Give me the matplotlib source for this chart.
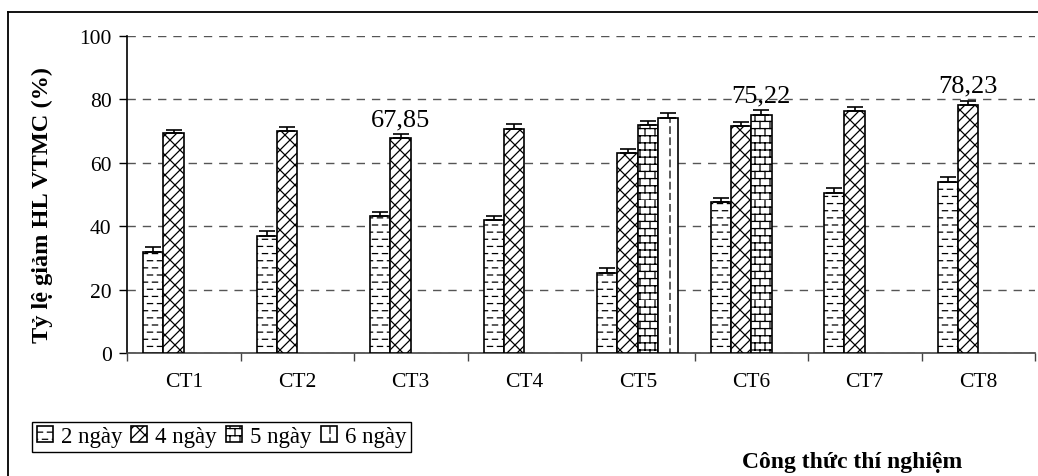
import warnings
import numpy as np
import matplotlib
matplotlib.use("Agg")
import matplotlib.pyplot as plt
import matplotlib.hatch as mhatch
from matplotlib.path import Path
from matplotlib.lines import Line2D

warnings.filterwarnings("ignore")

categories = ["CT1", "CT2", "CT3", "CT4", "CT5", "CT6", "CT7", "CT8"]
series = ["2 ngày", "4 ngày", "5 ngày", "6 ngày"]
nan = np.nan
v2 = [32.0, 37.0, 43.2, 42.0, 25.2, 47.5, 50.5, 54.0]
v4 = [69.3, 69.9, 67.85, 70.8, 63.2, 71.5, 76.3, 78.23]
v5 = [nan, nan, nan, nan, 71.8, 75.22, nan, nan]
v6 = [nan, nan, nan, nan, 74.2, nan, nan, nan]
e2 = [1.3, 1.4, 1.3, 1.3, 1.5, 1.4, 1.4, 1.5]
e4 = [0.9, 1.3, 1.2, 1.4, 1.3, 1.3, 1.3, 1.3]
e5 = [nan, nan, nan, nan, 1.3, 1.4, nan, nan]
e6 = [nan, nan, nan, nan, 1.5, nan, nan, nan]
labelled = {(2, 1): "67,85", (5, 2): "75,22", (7, 1): "78,23"}


def put_segments(segs, vertices, codes):
    for k, (x0, y0, x1, y1) in enumerate(segs):
        vertices[2 * k] = (x0, y0)
        vertices[2 * k + 1] = (x1, y1)
        codes[2 * k] = Path.MOVETO
        codes[2 * k + 1] = Path.LINETO


# custom Excel-like fill patterns (unit square = 1 inch)
class DashHatch(mhatch.HatchPatternBase):
    # staggered short horizontal dashes
    nx, ny, half = 10, 14, 0.026

    def __init__(self, hatch, density):
        on = "a" in hatch
        self.num_vertices = (self.nx * self.ny + self.ny // 2) * 2 if on else 0

    def set_vertices_and_codes(self, vertices, codes):
        dx, dy, L = 1.0 / self.nx, 1.0 / self.ny, self.half
        segs = []
        for j in range(self.ny):
            y = (j + 0.5) * dy
            if j % 2 == 0:
                for i in range(self.nx):
                    c = (i + 0.5) * dx
                    segs.append((c - L, y, c + L, y))
            else:
                segs.append((0.0, y, L, y))
                for i in range(1, self.nx):
                    c = i * dx
                    segs.append((c - L, y, c + L, y))
                segs.append((1.0 - L, y, 1.0, y))
        put_segments(segs, vertices, codes)


class BrickHatch(mhatch.HatchPatternBase):
    nx, ny = 10, 14

    def __init__(self, hatch, density):
        on = "b" in hatch
        self.num_vertices = (self.ny + self.nx * self.ny) * 2 if on else 0

    def set_vertices_and_codes(self, vertices, codes):
        dx, dy = 1.0 / self.nx, 1.0 / self.ny
        segs = []
        for j in range(self.ny):
            segs.append((0.0, j * dy, 1.0, j * dy))
            off = 0.0 if j % 2 == 0 else dx / 2
            for i in range(self.nx):
                xx = i * dx + off
                segs.append((xx, j * dy, xx, (j + 1) * dy))
        put_segments(segs, vertices, codes)


class VDashHatch(mhatch.HatchPatternBase):
    nx, ny, L = 5, 9, 0.065

    def __init__(self, hatch, density):
        on = "c" in hatch
        self.num_vertices = self.nx * self.ny * 2 if on else 0

    def set_vertices_and_codes(self, vertices, codes):
        dx, dy = 1.0 / self.nx, 1.0 / self.ny
        segs = [((i + 0.5) * dx, j * dy, (i + 0.5) * dx, j * dy + self.L)
                for i in range(self.nx) for j in range(self.ny)]
        put_segments(segs, vertices, codes)


class WeaveHatch(mhatch.HatchPatternBase):
    # zigzag weave: diagonal '/' lines plus short '\' links
    n = 10

    def __init__(self, hatch, density):
        on = "d" in hatch
        self.num_vertices = ((2 * self.n + 1) + self.n * self.n) * 2 if on else 0

    def set_vertices_and_codes(self, vertices, codes):
        n = self.n
        p = 1.0 / n
        segs = [(i * p, 0.0, i * p + 1.0, 1.0) for i in range(-n, n + 1)]
        for i in range(n):
            for j in range(n):
                xx, yy = i * p, j * p
                if (i + j) % 2 == 0:
                    segs.append((xx, yy + p, xx + p, yy))
                else:
                    segs.append((xx, yy, xx, yy))
        put_segments(segs, vertices, codes)


mhatch._hatch_types.extend([DashHatch, BrickHatch, VDashHatch, WeaveHatch])
mhatch._validate_hatch_pattern = lambda h: None

plt.rcParams["font.family"] = ["Liberation Serif", "DejaVu Serif"]
plt.rcParams["hatch.linewidth"] = 0.9
plt.rcParams["hatch.color"] = "black"

fig = plt.figure(figsize=(10.38, 4.77), dpi=100)
ax = fig.add_axes([127 / 1038, 1 - 354 / 477, (1035 - 127) / 1038, (354 - 37) / 477])

values = [v2, v4, v5, v6]
errors = [e2, e4, e5, e6]
hatches = ["a", "d", "b", "c"]
x = np.arange(len(categories))
w = 0.179

handles = []
bars_all = []
for s, (vals, errs, h) in enumerate(zip(values, errors, hatches)):
    vals = np.array(vals, dtype=float)
    errs = np.array(errs, dtype=float)
    pos = x + (s - 1.5) * w
    ok = ~np.isnan(vals)
    bars = ax.bar(pos[ok], vals[ok], width=w, color="white", edgecolor="black",
                  linewidth=1.2, hatch=h, zorder=3)
    ax.errorbar(pos[ok], vals[ok], yerr=[np.zeros(ok.sum()), errs[ok]], fmt="none",
                ecolor="black", elinewidth=1.2, capsize=6, capthick=1.2, zorder=4)
    bars_all.append((pos, vals, errs))
    handles.append(bars)

for (ci, si), txt in labelled.items():
    pos, vals, errs = bars_all[si]
    ax.text(pos[ci], vals[ci] + errs[ci] + 1.3, txt, ha="center", va="bottom",
            fontsize=19, zorder=5)

ax.set_xlim(-0.5, len(categories) - 0.5)
ax.set_ylim(0, 100)
ax.set_yticks(np.arange(0, 101, 20))
ax.tick_params(axis="y", labelsize=15.5, length=6, width=1, direction="out", pad=5)
ax.set_xticks(x)
ax.set_xticklabels(categories, fontsize=15.5)
ax.tick_params(axis="x", length=0, pad=14)
ax.set_xticks(np.arange(-0.5, len(categories)), minor=True)
ax.tick_params(axis="x", which="minor", length=6, width=1, color="#444444")
ax.yaxis.grid(True, linestyle=(0, (6, 5)), color="#555555", linewidth=1.0, zorder=0)
ax.set_axisbelow(True)
for sp in ["top", "right"]:
    ax.spines[sp].set_visible(False)
ax.spines["left"].set_linewidth(1.2)
ax.spines["bottom"].set_color("#444444")
ax.spines["bottom"].set_linewidth(1.2)

ax.set_ylabel("Tỷ lệ giảm HL VTMC (%)", fontsize=17.5, fontweight="bold")
ax.yaxis.set_label_coords(-0.082, 0.47)

fig.text(852 / 1038, 1 - 463 / 477, "Công thức thí nghiệm", fontsize=17,
         fontweight="bold", ha="center", va="center")

leg = fig.legend(handles, series, loc="lower left",
                 bbox_to_anchor=(32 / 1038, 1 - 453 / 477), ncol=4, fontsize=16.5,
                 frameon=True, fancybox=False, edgecolor="black", framealpha=1,
                 handlelength=0.7, handleheight=0.7, handletextpad=0.35,
                 columnspacing=0.4, borderpad=0.2, borderaxespad=0)
leg.get_frame().set_linewidth(1.0)

# outer chart border
fig.add_artist(Line2D([8 / 1038, 8 / 1038], [0, 1 - 13 / 477], color="black", lw=1.3,
                      transform=fig.transFigure))
fig.add_artist(Line2D([8 / 1038, 1], [1 - 13 / 477, 1 - 13 / 477], color="black", lw=1.3,
                      transform=fig.transFigure))

fig.savefig("out.png", dpi=100)
